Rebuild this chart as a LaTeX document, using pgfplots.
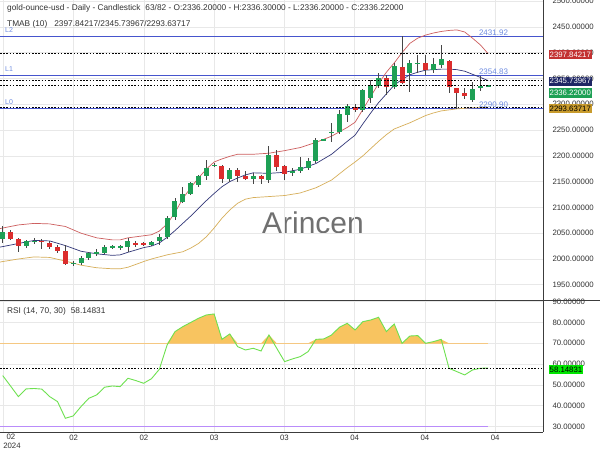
\documentclass[border=0pt]{standalone}
\usepackage{fontspec}
\setmainfont{Liberation Sans}
\usepackage{pgfplots}
\usepackage{pgfplotstable}
\pgfplotsset{compat=1.18}

\definecolor{cgreen}{RGB}{30,160,85}
\definecolor{cred}{RGB}{220,45,45}
\definecolor{cwick}{RGB}{70,70,70}
\definecolor{bandup}{RGB}{205,95,95}
\definecolor{bandmid}{RGB}{50,55,120}
\definecolor{bandlo}{RGB}{215,175,90}
\definecolor{lvl}{RGB}{70,85,205}
\definecolor{lvltxt}{RGB}{110,140,225}
\definecolor{gridc}{RGB}{232,232,232}
\definecolor{txt}{RGB}{50,50,50}
\definecolor{rsic}{RGB}{110,225,80}
\definecolor{obline}{RGB}{245,200,130}
\definecolor{obfill}{RGB}{248,196,96}
\definecolor{osline}{RGB}{185,140,250}
\definecolor{boxred}{RGB}{195,50,50}
\definecolor{boxnavy}{RGB}{30,38,100}
\definecolor{boxgreen}{RGB}{30,160,85}
\definecolor{boxgold}{RGB}{200,155,45}
\definecolor{boxlime}{RGB}{0,230,0}
\definecolor{axc}{RGB}{60,60,60}
\definecolor{wm}{RGB}{112,112,112}

\newcommand\tf{\fontsize{7.8}{9}\selectfont}
\newcommand\hf{\fontsize{8.3}{9.5}\selectfont}

% green (rising) candles: slot O H L C
\pgfplotstableread{
i O H L C
0 2038 2064 2031 2053
3 2026 2037 2021 2034
4 2033 2040 2029 2035
9 1990 1996 1986 1993
10 1992 2006 1988 2001
11 2001 2014 1998 2011
12 2011 2019 2006 2013
13 2012 2027 2010 2023
14 2023 2027 2019 2024
15 2023 2028 2017 2023.5
16 2023 2040 2014 2034
19 2027 2034 2025 2032
20 2034 2048 2027 2042
21 2043 2083 2039 2080
22 2081 2118 2076 2113
23 2111 2140 2108 2125
24 2126 2150 2124 2147
25 2144 2163 2140 2160
26 2160 2192 2153 2176
27 2181 2187 2178 2183
29 2155 2176 2150 2172
32 2156 2166 2145 2161
34 2154 2219 2148 2202
37 2166 2176 2161 2170
38 2170 2198 2167 2178
39 2177 2195 2172 2189
40 2189 2234 2186 2231
41 2231 2231 2231 2231
42 2244 2263 2227 2247
43 2246 2289 2243 2282
44 2280 2300 2266 2296
46 2289 2329 2285 2327
47 2313 2347 2302 2337
48 2335 2361 2331 2350
50 2333 2379 2329 2374
52 2361 2386 2324 2380
53 2378 2395 2360 2380
55 2366 2389 2361 2377
56 2376 2415 2371 2387
60 2309 2344 2305 2329
61 2331 2354.83 2325 2336.2
62 2336.20 2336.30 2336.20 2336.22
}\tgreen

% red (falling) candles
\pgfplotstableread{
i O H L C
1 2052 2056 2036 2038
2 2038 2041 2014 2025
5 2035 2038 2019 2034
6 2031 2034 2020 2023
7 2024 2027 2011 2016
8 2016 2028 1988 1990
17 2030 2034 2024 2029
18 2030 2032 2026 2029
28 2180 2182 2148 2155
30 2172 2176 2150 2160
31 2160 2170 2153 2156
33 2161 2163 2145 2156
35 2202 2211 2170 2179
36 2180 2183 2153 2164
45 2294 2300 2284 2289
49 2350 2357 2318 2333
51 2373 2431.92 2339 2342
54 2380 2395 2357 2366
57 2384 2386 2322 2333
58 2331 2332 2290.9 2322
59 2321 2331 2310 2315
}\tred

% TMAB bands
\pgfplotstableread{
i U M Lo
-0.35 2059 2023 1994
0 2060 2024 1995
2 2066 2030 2000
4 2069 2036 2004
6 2068 2035 2003
8 2063 2026 1996
10 2050 2015 1988
12 2041 2010 1983
14 2037 2007 1981
15 2037 2008 1981
16 2041 2013 1984
18 2045 2022 1995
19 2047 2025 2000
20 2054 2031 2004
21 2068 2042 2008
22 2090 2055 2011
23 2117 2069 2014
24 2138 2083 2021
25 2157 2098 2030
26 2174 2113 2043
27 2188 2127 2060
28 2194 2140 2079
29 2199 2150 2095
30 2203 2157 2108
31 2203 2163 2116
32 2203 2167 2119
34 2205 2166 2121
36 2210 2168 2123
38 2216 2174 2128
40 2226 2185 2138
42 2238 2203 2153
44 2255 2228 2177
45 2265 2240 2188
46 2290 2262 2200
47 2315 2283 2214
48 2340 2303 2228
49 2362 2320 2241
50 2380 2337 2252
51 2400 2348 2258
52 2418 2357 2264
53 2428 2362 2271
54 2434 2366 2278
55 2438 2367 2283
56 2441 2368 2287
57 2443 2368 2289
58 2444 2367 2291
59 2440 2364 2292
60 2428 2358 2293
61 2415 2352 2293.5
62 2397.84 2345.74 2293.64
}\tband

% RSI (14)
\pgfplotstableread{
i r
0 54.5
1 49.5
2 44.4
3 48.1
4 48.3
5 48.0
6 44.4
7 42.0
8 34.0
9 35.1
10 39.6
11 43.6
12 45.2
13 48.9
14 49.5
15 49.2
16 53.2
17 52.1
18 50.8
19 53.0
20 57.5
21 69.2
22 75.6
23 78.0
24 80.0
25 82.0
26 83.6
27 84.1
28 71.9
29 74.5
30 68.4
31 66.8
32 67.6
33 66.3
34 74.0
35 67.6
36 61.2
37 62.5
38 63.6
39 66.0
40 71.9
41 72.1
42 74.0
43 77.7
44 79.6
45 76.4
46 80.4
47 81.2
48 82.5
49 75.6
50 79.3
51 70.0
52 73.5
53 73.7
54 70.0
55 70.8
56 71.9
57 58.0
58 56.4
59 54.8
60 57.2
61 58.0
62 58.15
}\trsi

\begin{document}
\begin{tikzpicture}[x=1pt,y=1pt]
\useasboundingbox (0,0) rectangle (600,450);
\fill[white] (0,0) rectangle (600,450);

\node[font=\fontsize{30}{32}\selectfont, text=wm] at (313,227) {Arincen};

% ---------------- price panel ----------------
\begin{axis}[
  at={(0pt,150pt)}, anchor=south west,
  width=543pt, height=300pt, scale only axis,
  xmin=-0.345, xmax=69.0, ymin=1920.5, ymax=2502,
  axis line style={draw=none},
  tick style={draw=none},
  xtick={0.1,9.07,18.04,27.0,35.98,44.95,53.92,62.89},
  xticklabels={},
  ytick={1950,2000,...,2500},
  yticklabels={1950.00000,2000.00000,2050.00000,2100.00000,2150.00000,2200.00000,2250.00000,2300.00000,2350.00000,2400.00000,2450.00000,2500.00000},
  yticklabel pos=right,
  yticklabel style={font=\tf, text=txt, anchor=west, xshift=6pt},
  grid=major, grid style={draw=gridc, line width=0.6pt},
]
% level lines
\addplot[lvl, line width=0.9pt] coordinates {(-0.345,2431.92) (69,2431.92)};
\addplot[lvl, line width=0.9pt] coordinates {(-0.345,2354.83) (69,2354.83)};
\addplot[lvl, line width=0.9pt] coordinates {(-0.345,2290.90) (69,2290.90)};
% bands
\addplot[bandup, line width=0.7pt] table[x=i,y=U]{\tband};
\addplot[bandmid, line width=0.7pt] table[x=i,y=M]{\tband};
\addplot[bandlo, line width=0.7pt] table[x=i,y=Lo]{\tband};
% wicks
\addplot[draw=none, error bars/.cd, y dir=both, y explicit, error mark=none,
  error bar style={draw=cwick, line width=0.9pt}]
  table[x=i, y expr={(\thisrow{H}+\thisrow{L})/2}, y error expr={(\thisrow{H}-\thisrow{L})/2}]{\tgreen};
\addplot[draw=none, error bars/.cd, y dir=both, y explicit, error mark=none,
  error bar style={draw=cwick, line width=0.9pt}]
  table[x=i, y expr={(\thisrow{H}+\thisrow{L})/2}, y error expr={(\thisrow{H}-\thisrow{L})/2}]{\tred};
% bodies
\addplot[draw=none, error bars/.cd, y dir=both, y explicit, error mark=none,
  error bar style={draw=cgreen, line width=5pt}]
  table[x=i, y expr={(\thisrow{O}+\thisrow{C})/2}, y error expr={max(abs(\thisrow{C}-\thisrow{O})/2,1)}]{\tgreen};
\addplot[draw=none, error bars/.cd, y dir=both, y explicit, error mark=none,
  error bar style={draw=cred, line width=5pt}]
  table[x=i, y expr={(\thisrow{O}+\thisrow{C})/2}, y error expr={max(abs(\thisrow{C}-\thisrow{O})/2,1)}]{\tred};
% dotted value lines
\addplot[black, line width=0.8pt, dash pattern=on 1.6pt off 1.6pt] coordinates {(-0.345,2397.84) (69,2397.84)};
\addplot[black, line width=0.8pt, dash pattern=on 1.6pt off 1.6pt] coordinates {(-0.345,2345.74) (69,2345.74)};
\addplot[black, line width=0.8pt, dash pattern=on 1.6pt off 1.6pt] coordinates {(-0.345,2336.22) (69,2336.22)};
\addplot[black, line width=0.8pt, dash pattern=on 1.6pt off 1.6pt] coordinates {(-0.345,2293.64) (69,2293.64)};
\end{axis}

% ---------------- RSI panel ----------------
\begin{axis}[
  at={(0pt,18pt)}, anchor=south west,
  width=543pt, height=132pt, scale only axis,
  xmin=-0.345, xmax=69.0, ymin=27.4, ymax=90.8,
  axis line style={draw=none},
  tick style={draw=none},
  xtick={0.1,9.07,18.04,27.0,35.98,44.95,53.92,62.89},
  xticklabels={,02,02,03,03,04,04,04},
  xticklabel style={font=\tf, text=txt},
  ytick={30,40,...,90},
  yticklabels={30.00000,40.00000,50.00000,60.00000,70.00000,80.00000,90.00000},
  yticklabel pos=right,
  yticklabel style={font=\tf, text=txt, anchor=west, xshift=6pt},
  grid=major, grid style={draw=gridc, line width=0.6pt},
]
% overbought fill: stacked between 70 and max(rsi,70)
\addplot[draw=none, stack plots=y, forget plot] table[x=i, y expr=70]{\trsi};
\addplot[fill=obfill, draw=none, stack plots=y, forget plot] table[x=i, y expr={max(\thisrow{r},70)-70}]{\trsi} \closedcycle;
\addplot[obline, line width=0.9pt] coordinates {(-0.345,70) (62,70)};
\addplot[osline, line width=1.1pt] coordinates {(-0.345,30) (62,30)};
\addplot[rsic, line width=0.9pt] table[x=i,y=r]{\trsi};
\addplot[black, line width=0.8pt, dash pattern=on 1.6pt off 1.6pt] coordinates {(-0.345,58.148) (69,58.148)};
\end{axis}

% frame lines
\draw[axc, line width=0.9pt] (543,18) -- (543,450);
\draw[axc, line width=0.9pt] (0,18) -- (543,18);
\draw[axc, line width=0.9pt] (0,150) -- (600,150);

% texts
\node[anchor=west, font=\hf, text=txt, inner sep=0] at (7,441.7) {gold-ounce-usd - Daily - Candlestick\hspace{5pt}63/82 - O:2336.20000 - H:2336.30000 - L:2336.20000 - C:2336.22000};
\node[anchor=west, font=\hf, text=txt, inner sep=0] at (7,425.3) {TMAB (10)\hspace{7pt}2397.84217/2345.73967/2293.63717};
\node[anchor=west, font=\fontsize{7}{8}\selectfont, text=lvltxt, inner sep=0] at (5,420.3) {L2};
\node[anchor=west, font=\fontsize{7}{8}\selectfont, text=lvltxt, inner sep=0] at (5,381) {L1};
\node[anchor=west, font=\fontsize{7}{8}\selectfont, text=lvltxt, inner sep=0] at (5,348) {L0};
\node[font=\fontsize{8}{9}\selectfont, text=lvltxt, inner sep=0] at (493.5,417.7) {2431.92};
\node[font=\fontsize{8}{9}\selectfont, text=lvltxt, inner sep=0] at (493.5,378.3) {2354.83};
\node[font=\fontsize{8}{9}\selectfont, text=lvltxt, inner sep=0] at (493.5,345) {2290.90};

\node[anchor=west, fill=boxred, text=white, font=\tf, inner xsep=1pt, inner ysep=0pt, minimum height=9.5pt] at (548.5,395.3) {2397.84217};
\node[anchor=west, fill=boxnavy, text=white, font=\tf, inner xsep=1pt, inner ysep=0pt, minimum height=9.5pt] at (548.5,368.7) {2345.73967};
\node[anchor=west, fill=boxgreen, text=white, font=\tf, inner xsep=1pt, inner ysep=0pt, minimum height=9.5pt] at (548.5,357.2) {2336.22000};
\node[anchor=west, fill=boxgold, text=black, font=\tf, inner xsep=1pt, inner ysep=0pt, minimum height=9.5pt] at (548.5,341.3) {2293.63717};
\node[anchor=west, fill=boxlime, text=black, font=\tf, inner xsep=1pt, inner ysep=0pt, minimum height=9.5pt] at (548.5,80.3) {58.14831};

\node[anchor=west, font=\hf, text=txt, inner sep=0] at (7,138.3) {RSI (14, 70, 30)\hspace{5pt}58.14831};
\node[font=\tf, text=txt, inner sep=0] at (11,13.3) {02};
\node[font=\tf, text=txt, inner sep=0] at (12,4.5) {2024};
\end{tikzpicture}
\end{document}
